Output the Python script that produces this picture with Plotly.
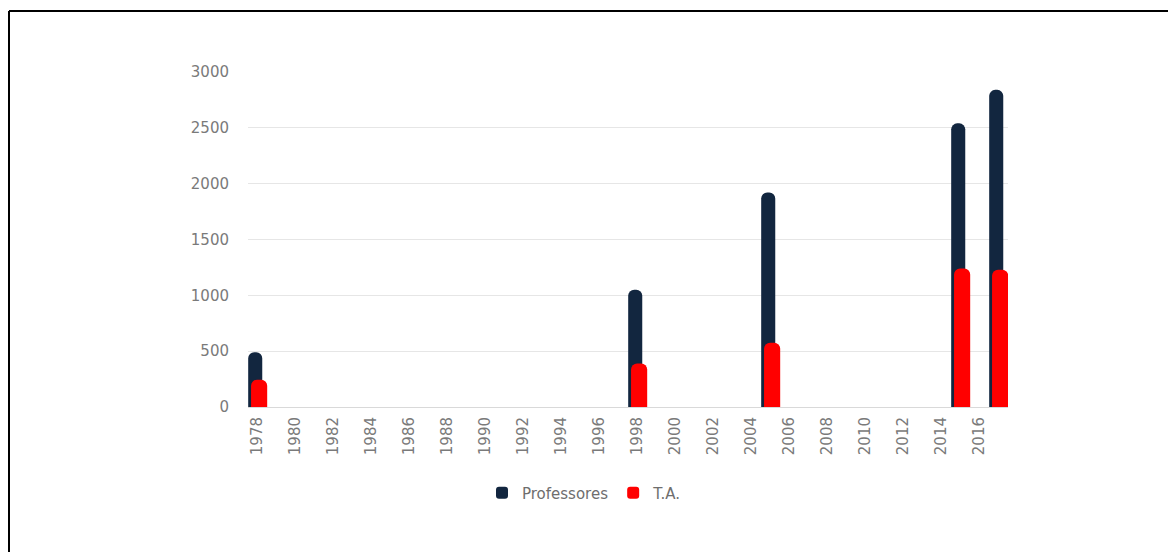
import plotly.graph_objects as go

years = [1978, 1998, 2005, 2015, 2017]
professores = [490, 1050, 1920, 2540, 2840]
ta = [245, 390, 575, 1240, 1230]
series_names = ["Professores", "T.A."]
y_ticks = [0, 500, 1000, 1500, 2000, 2500, 3000]
x_ticks = list(range(1978, 2017, 2))

W, H = 1168, 552
L, R, T, B = 248, 160, 72, 145
pw, ph = W - L - R, H - T - B

fig = go.Figure()
fig.add_trace(go.Bar(
    x=years, y=professores, name=series_names[0],
    marker=dict(color="#12263f", cornerradius=6, line=dict(width=0)),
    width=0.74, offset=-0.49,
))
fig.add_trace(go.Bar(
    x=years, y=ta, name=series_names[1],
    marker=dict(color="#ff0000", cornerradius=6, line=dict(width=0)),
    width=0.85, offset=-0.34,
))

def px_x(p):
    return (p - L) / pw

def px_y(p):
    return (H - B - p) / ph

tick_font = dict(family="DejaVu Sans, sans-serif", size=15, color="#7a7a7a")

fig.update_layout(
    width=W, height=H,
    margin=dict(l=L, r=R, t=T, b=B),
    paper_bgcolor="white", plot_bgcolor="white",
    barmode="overlay",
    font=dict(family="DejaVu Sans, sans-serif", size=15, color="#7a7a7a"),
    xaxis=dict(
        range=[1977.5, 2017.5], tickmode="array", tickvals=x_ticks,
        ticktext=[str(v) for v in x_ticks], tickangle=-90,
        showgrid=False, zeroline=False, showline=False,
        ticks="", ticklabelstandoff=6,
        tickfont=tick_font,
    ),
    yaxis=dict(
        range=[0, 3000], tickmode="array", tickvals=y_ticks,
        showgrid=True, gridcolor="#e6e6e6", gridwidth=1,
        zeroline=True, zerolinecolor="#d9d9d9", zerolinewidth=1,
        showline=False, ticks="", ticklabelstandoff=18,
        tickfont=tick_font,
    ),
    legend=dict(
        orientation="h", x=px_x(482), y=px_y(493), xanchor="left", yanchor="middle",
        font=dict(family="DejaVu Sans, sans-serif", size=15, color="#6e6e6e"),
        itemwidth=30, bgcolor="rgba(0,0,0,0)",
    ),
    showlegend=True,
    shapes=[
        dict(type="line", xref="paper", yref="paper",
             x0=px_x(9), x1=px_x(W + 5), y0=px_y(11), y1=px_y(11),
             line=dict(color="black", width=2)),
        dict(type="line", xref="paper", yref="paper",
             x0=px_x(9), x1=px_x(9), y0=px_y(11), y1=px_y(H + 5),
             line=dict(color="black", width=2)),
    ],
)

fig.write_html("out.html")
